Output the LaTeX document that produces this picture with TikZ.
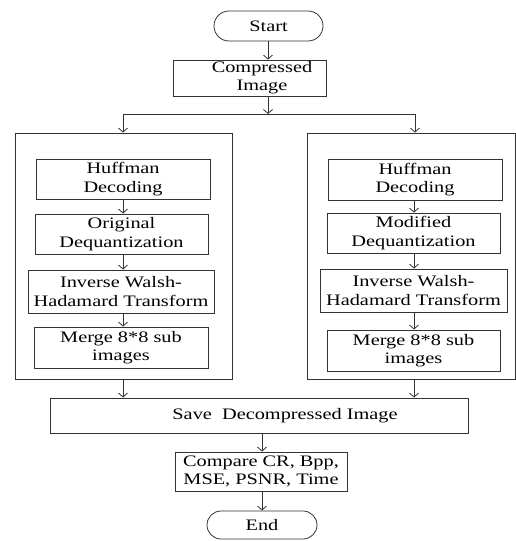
\documentclass[tikz,border=0pt]{standalone}
\usepackage{fontspec}
\setmainfont{Liberation Serif}[FakeStretch=1.27]
\usetikzlibrary{arrows.meta,shapes.misc}
\newcommand{\flowfont}{\fontsize{16}{18.3}\selectfont}
\begin{document}
\begin{tikzpicture}[x=1pt,y=-1pt,
  ln/.style={draw=black!80, line width=0.8pt},
  arr/.style={ln, -{Straight Barb[length=4pt,width=9pt]}},
  bx/.style={ln, rectangle, inner sep=0pt, align=center, font=\flowfont},
  term/.style={ln, rounded rectangle, inner sep=0pt, font=\flowfont},
  txt/.style={inner sep=0pt, align=center, font=\flowfont}]
\useasboundingbox (0,0) rectangle (516,541);
% terminals and top
\node[term, minimum width=109pt, minimum height=30pt] (start) at (268.5,26) {Start};
\node[bx, minimum width=153pt, minimum height=36pt] (comp) at (249.5,78) {};
\node[txt] (compt) at (262,78) {Compressed\\Image};
\coordinate (split) at (268,114);
\coordinate (ls) at (123,114);
\coordinate (rs) at (415,114);
% group boxes
\node[bx, minimum width=217pt, minimum height=246pt] (g1) at (123.5,256) {};
\node[bx, minimum width=208pt, minimum height=246pt] (g2) at (411,256) {};
% left branch
\node[bx, minimum width=174pt, minimum height=40pt] (h1) at (123,179) {Huffman\\Decoding};
\node[bx, minimum width=173pt, minimum height=40pt] (d1) at (121.5,234) {Original\\Dequantization};
\node[bx, minimum width=186pt, minimum height=43pt] (w1) at (121,291.5) {Inverse Walsh-\\Hadamard Transform};
\node[bx, minimum width=174pt, minimum height=41pt] (m1) at (121,347.5) {Merge 8*8 sub\\images};
% right branch
\node[bx, minimum width=174pt, minimum height=41pt] (h2) at (415,179.5) {Huffman\\Decoding};
\node[bx, minimum width=173pt, minimum height=40pt] (d2) at (413.5,233) {Modified\\Dequantization};
\node[bx, minimum width=187pt, minimum height=43pt] (w2) at (413.5,290.5) {Inverse Walsh-\\Hadamard Transform};
\node[bx, minimum width=173pt, minimum height=41pt] (m2) at (413.5,350.5) {Merge 8*8 sub\\images};
% bottom
\node[bx, minimum width=418pt, minimum height=35pt] (save) at (259,415.5) {};
\node[txt] (savet) at (285,415.5) {Save\ \ Decompressed Image};
\node[bx, minimum width=172pt, minimum height=39pt] (cmp) at (261,471.5) {Compare CR, Bpp,\\MSE, PSNR, Time};
\node[term, minimum width=110pt, minimum height=28pt] (end) at (262,525) {End};
% axes for connectors
\coordinate (ax1) at (123,0);
\coordinate (ax2) at (414,0);
\coordinate (ax3) at (262,0);
% connectors
\draw[arr] (start.south -| split) -- (comp.north -| split);
\draw[arr] (comp.south -| split) -- (split);
\draw[ln] (ls) -- (rs);
\draw[arr] (ls) -- (g1.north -| ls);
\draw[arr] (rs) -- (g2.north -| rs);
\draw[arr] (h1.south -| ax1) -- (d1.north -| ax1);
\draw[arr] (d1.south -| ax1) -- (w1.north -| ax1);
\draw[arr] (w1.south -| ax1) -- (m1.north -| ax1);
\draw[arr] (h2.south -| ax2) -- (d2.north -| ax2);
\draw[arr] (d2.south -| ax2) -- (w2.north -| ax2);
\draw[arr] (w2.south -| ax2) -- (m2.north -| ax2);
\draw[arr] (g1.south -| ax1) -- (save.north -| ax1);
\draw[arr] (g2.south -| ax2) -- (save.north -| ax2);
\draw[arr] (save.south -| ax3) -- (cmp.north -| ax3);
\draw[arr] (cmp.south -| ax3) -- (end.north -| ax3);
\end{tikzpicture}
\end{document}
